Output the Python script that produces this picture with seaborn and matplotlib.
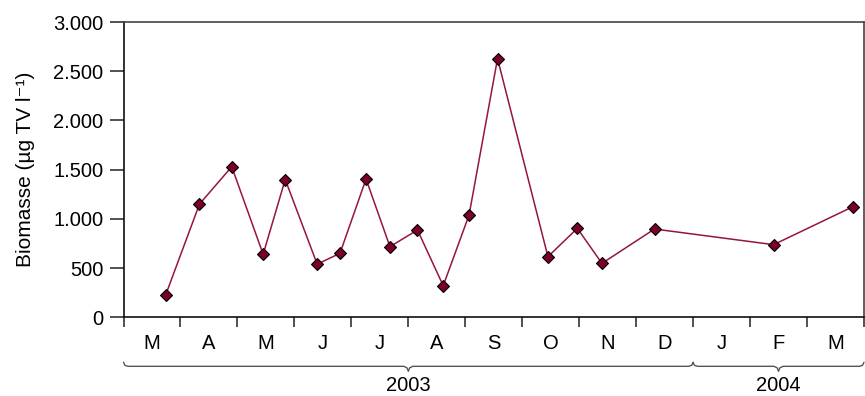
import numpy as np
import pandas as pd
import matplotlib
matplotlib.use('Agg')
import matplotlib.pyplot as plt
import matplotlib.transforms as mtransforms
import seaborn as sns

# Sampling dates and biomass values
dates = ['2003-03-24', '2003-04-11', '2003-04-28', '2003-05-15', '2003-05-27',
         '2003-06-13', '2003-06-25', '2003-07-09', '2003-07-22', '2003-08-06',
         '2003-08-20', '2003-09-03', '2003-09-18', '2003-10-15', '2003-10-31',
         '2003-11-13', '2003-12-11', '2004-02-13', '2004-03-26']
biomass = [230, 1150, 1530, 640, 1400, 540, 650, 1405, 718, 887,
           321, 1039, 2628, 616, 904, 548, 897, 738, 1124]

month_labels = ['M', 'A', 'M', 'J', 'J', 'A', 'S', 'O', 'N', 'D', 'J', 'F', 'M']
years = ['2003', '2004']
year_spans = [(0, 10), (10, 13)]  # month index ranges

d = pd.to_datetime(pd.Series(dates))
# fractional month position, 0 = 1 March 2003
pos = (d.dt.year - 2003) * 12 + d.dt.month - 3 + (d.dt.day - 1) / d.dt.days_in_month
df = pd.DataFrame({'pos': pos, 'biomass': biomass})

sns.set_style('ticks')
plt.rcParams['font.family'] = ['Liberation Sans', 'DejaVu Sans']
plt.rcParams['text.color'] = 'black'
plt.rcParams['axes.labelcolor'] = 'black'
plt.rcParams['xtick.labelcolor'] = 'black'
plt.rcParams['ytick.labelcolor'] = 'black'

fig = plt.figure(figsize=(8.65, 3.96), dpi=100)
ax = fig.add_axes([0.1428, 0.1987, 0.8560, 0.7457])

sns.lineplot(data=df, x='pos', y='biomass', ax=ax, color='#961540', linewidth=1.1,
             marker='D', markersize=6, markerfacecolor='#7A0026',
             markeredgecolor='black', markeredgewidth=0.8)

ax.set_xlim(0, 13)
ax.set_ylim(0, 3000)
ax.set_yticks(range(0, 3001, 500))
ax.set_yticklabels([f'{v:,}'.replace(',', '.') for v in range(0, 3001, 500)], fontsize=14.5)

ax.set_xticks(np.arange(0, 14))
ax.set_xticklabels([])
ax.set_xticks(np.arange(0.5, 13), minor=True)
ax.set_xticklabels(month_labels, minor=True, fontsize=14.5)
ax.tick_params(axis='x', which='major', length=7, width=1.1, direction='out', color='#222222')
ax.tick_params(axis='x', which='minor', length=0, pad=12)
ax.tick_params(axis='y', length=10, width=1.1, color='#222222', pad=4.5)

ax.set_xlabel('')
ax.set_ylabel('Biomasse (µg TV l⁻¹)', fontsize=15, labelpad=13)

for side in ['left', 'bottom']:
    ax.spines[side].set_linewidth(1.2)
    ax.spines[side].set_color('#111111')
for side in ['top', 'right']:
    ax.spines[side].set_visible(True)
    ax.spines[side].set_linewidth(1.2)
    ax.spines[side].set_color('#444444')

# curly braces under the month labels with year names
trans = mtransforms.blended_transform_factory(ax.transData, ax.transAxes)
px = 1.0 / (0.7457 * 396)  # one pixel in axes-y units
yb = -49 * px
for (a, b), name in zip(year_spans, years):
    mid = (a + b) / 2
    e = 0.08
    xs = [a, a + e * 0.3, a + e, mid - e, mid - e * 0.3, mid,
          mid + e * 0.3, mid + e, b - e, b - e * 0.3, b]
    ys = [yb + 4 * px, yb + 1 * px, yb, yb, yb - 1.5 * px, yb - 5 * px,
          yb - 1.5 * px, yb, yb, yb + 1 * px, yb + 4 * px]
    ax.plot(xs, ys, color='#555555', linewidth=1.0, transform=trans, clip_on=False)
    ax.text(mid, yb - 19 * px, name, transform=trans, ha='center', va='center', fontsize=14.5)

fig.savefig('out.png', dpi=100)
